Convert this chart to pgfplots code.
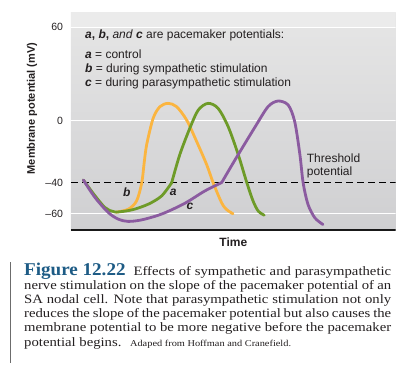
\documentclass[border=0pt]{standalone}
\usepackage{pgfplots}
\pgfplotsset{compat=1.18}
\usepackage{fontspec}
\setmainfont{Liberation Sans}
\newfontfamily\capfont[FakeStretch=1.15]{Liberation Serif}
\newfontfamily\figfont[FakeStretch=1.06]{Liberation Serif}
\definecolor{corange}{HTML}{FBB540}
\definecolor{cgreen}{HTML}{6E9B28}
\definecolor{cpurple}{HTML}{8B5BA0}
\definecolor{figblue}{HTML}{1D5B85}
\definecolor{txt}{HTML}{231F20}
\definecolor{bgtop}{HTML}{E6E6E6}
\definecolor{bgbot}{HTML}{CFCFD1}
\definecolor{bandtop}{HTML}{EBEBEB}
\begin{document}
\begin{tikzpicture}[x=1pt,y=1pt]
\path[use as bounding box] (0,0) rectangle (418,373);
\begin{axis}[
  at={(71pt,142.3pt)}, anchor=south west,
  scale only axis, width=324.7pt, height=218.4pt,
  xmin=0, xmax=100, ymin=-71.1, ymax=69.7,
  axis line style={draw=none},
  xtick=\empty,
  ytick={-60,-40,0,60},
  yticklabels={\textendash60,\textendash40,0,60},
  major tick length=0pt,
  yticklabel style={font=\fontsize{10.5}{12}\selectfont, text=txt, xshift=-4.5pt},
  axis background/.style={shade, top color=bgtop, bottom color=bgbot},
  every axis plot/.append style={line width=2.8pt, line cap=round, line join=round},
]
\fill[bandtop] (axis cs:0,60) rectangle (axis cs:100,69.7);
\draw[white, line width=1.6pt] (axis cs:0,60) -- (axis cs:100,60);
\draw[white, line width=1.6pt] (axis cs:0,0) -- (axis cs:100,0);
\draw[white, line width=1.6pt] (axis cs:0,-60) -- (axis cs:100,-60);
\addplot[black, line width=0.9pt, dash pattern=on 7pt off 4pt, line cap=butt] coordinates {(0,-40) (100,-40)};
% b: sympathetic (orange)
\addplot[corange, smooth] coordinates {(13.8,-59.2)(17.6,-57.3)(20.2,-51.9)(21.8,-40.1)(22.5,-28)(23.3,-15.7)(25.3,1.4)(27.4,8.9)(29.9,11)(32.5,8.9)(35.6,0.3)(38.7,-13.6)(41.8,-28.6)(43.8,-40.3)(46.4,-53.1)(47.9,-57.4)(49.9,-60.2)};
% a: control (green)
\addplot[cgreen, smooth] coordinates {(3.8,-38.4)(7.3,-48.3)(10.5,-56.2)(13.5,-59)(18.7,-57.7)(23.8,-54)(27.9,-48.7)(31,-40.2)};
\addplot[cgreen, smooth] coordinates {(31,-40.2)(33.5,-22.1)(36.6,-5)(39.2,6.7)(42.2,11)(45.3,7.8)(48.4,-4)(51.5,-22)(54.1,-39.8)(56.1,-52.1)(57.7,-58.5)(59.5,-61.1)};
% c: parasympathetic (purple)
\addplot[cpurple, smooth] coordinates {(3.8,-38.4)(7.4,-49.7)(11.5,-59.4)(14.6,-63.7)(17.6,-65.1)(21.8,-64.1)(28,-60.3)(35,-53.5)(41.2,-45.5)(46.4,-40.1)};
\addplot[cpurple, smooth] coordinates {(46.4,-40.1)(50.5,-25.5)(56.6,-4.5)(60.7,8.9)(63.8,12.5)(66.9,9.9)(68.9,-0.8)(70.5,-22.1)(71.5,-40.3)(73,-54.2)(75.1,-62.8)(77.6,-67.1)};
\draw[black!90, line width=2.7pt] (rel axis cs:0,0) -- (rel axis cs:1,0);
\end{axis}
% legend text
\begin{scope}[every node/.style={inner sep=0pt, text=txt, font=\fontsize{12}{14}\selectfont}]
\node[anchor=base west] at (85,334.7) {\textbf{\textit{a}, \textit{b},} \textit{and} \textbf{\textit{c}} are pacemaker potentials:};
\node[anchor=base west] at (85,314) {\textbf{\textit{a}} = control};
\node[anchor=base west] at (85,300) {\textbf{\textit{b}} = during sympathetic stimulation};
\node[anchor=base west] at (85,286.7) {\textbf{\textit{c}} = during parasympathetic stimulation};
\node[anchor=base west] at (306.7,210.5) {Threshold};
\node[anchor=base west] at (306.7,197) {potential};
\node at (126.7,180.3) {\textbf{\textit{b}}};
\node at (173.3,181) {\textbf{\textit{a}}};
\node at (190,166.3) {\textbf{\textit{c}}};
\node[rotate=90, font=\fontsize{11}{13}\selectfont\bfseries] at (32,264.5) {Membrane potential (mV)};
\node[font=\fontsize{12}{14}\selectfont\bfseries] at (233.3,130.7) {Time};
\end{scope}
% caption
\draw[gray!85!black, line width=1pt] (10,111) -- (10,10);
\node[anchor=base west, inner sep=0pt, text=txt] at (24,98) {\parbox[t]{367pt}{\hyphenpenalty=10000 \exhyphenpenalty=10000 \capfont\fontsize{12.8}{14.2}\selectfont
\mbox{\figfont\fontsize{18}{20}\selectfont\bfseries\color{figblue}Figure 12.22}\hspace{8pt}Effects of sympathetic and parasympathetic\linebreak
nerve stimulation on the slope of the pacemaker potential of an\linebreak
SA nodal cell. Note that parasympathetic stimulation not only\linebreak
reduces the slope of the pacemaker potential but also causes the\linebreak
membrane potential to be more negative before the pacemaker\linebreak
potential begins. \ {\fontsize{9}{10}\selectfont Adaped from Hoffman and Cranefield.}}};
\end{tikzpicture}
\end{document}
